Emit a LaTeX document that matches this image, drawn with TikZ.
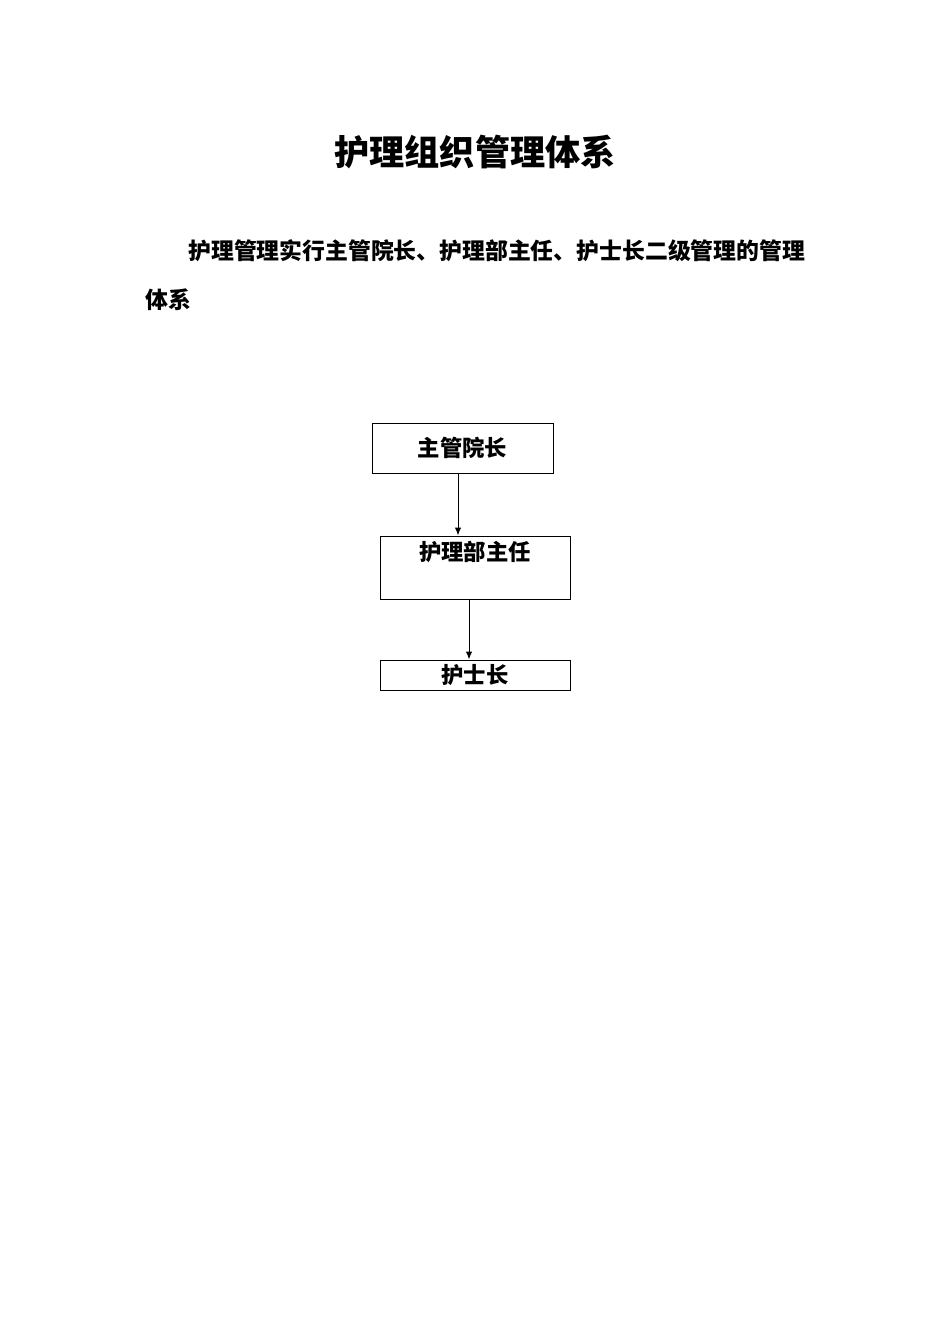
\documentclass[tikz,border=0pt]{standalone}
\usepackage{fontspec}
\newfontfamily\cjk{Noto Sans CJK SC}
\usetikzlibrary{arrows.meta,positioning}

\begin{document}
\begin{tikzpicture}[x=0.626pt,y=-0.626pt,
    box/.style={draw,line width=0.6pt,inner sep=0pt,font=\cjk\bfseries\fontsize{14pt}{16pt}\selectfont},
    arr/.style={-{Latex[length=5pt,width=4pt]},line width=0.6pt}]

\useasboundingbox[fill=white] (0,0) rectangle (950,1344);

% Title and text
\node[font=\cjk\bfseries\fontsize{22pt}{26pt}\selectfont] (title) at (475,152) {护理组织管理体系};
\node[anchor=west,inner sep=0pt,font=\cjk\bfseries\fontsize{14.3pt}{16pt}\selectfont] (line1) at (188,251) {护理管理实行主管院长、护理部主任、护士长二级管理的管理};
\node[anchor=west,inner sep=0pt,font=\cjk\bfseries\fontsize{14.3pt}{16pt}\selectfont] (line2) at (145,300) {体系};

% Boxes
\node[box,minimum width=181*0.626pt,minimum height=50*0.626pt] (head) at (462.5,448) {主管院长};
\node[box,minimum width=190*0.626pt,minimum height=63*0.626pt] (dept) at (475,567.5) {};
\node[font=\cjk\bfseries\fontsize{14pt}{16pt}\selectfont] (depttext) at (475,552) {护理部主任};
\node[box,minimum width=190*0.626pt,minimum height=30*0.626pt] (nurse) at (475,675) {护士长};

% Arrows
\coordinate (p1) at (458,0);
\coordinate (p2) at (469,0);
\draw[arr] (head.south -| p1) -- (dept.north -| p1);
\draw[arr] (dept.south -| p2) -- (nurse.north -| p2);

\end{tikzpicture}
\end{document}
